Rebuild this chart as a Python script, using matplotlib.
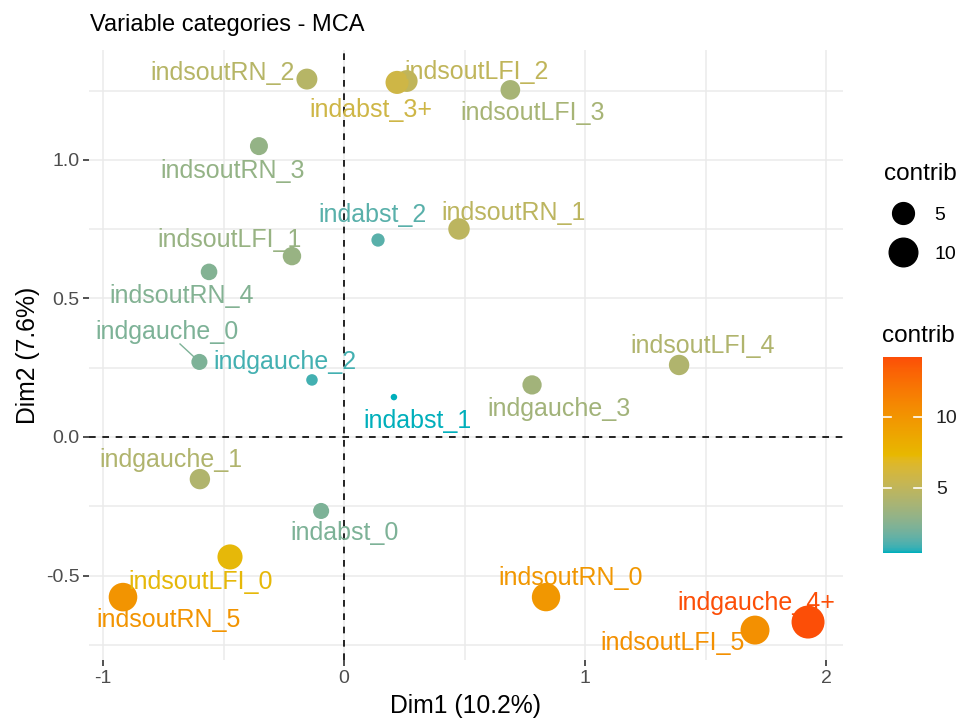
import numpy as np
import matplotlib
matplotlib.use("Agg")
import matplotlib.pyplot as plt
from matplotlib.colors import ListedColormap, Normalize
from matplotlib.lines import Line2D

plt.rcParams['font.family'] = ['Liberation Sans', 'DejaVu Sans']

# MCA variable categories (Dim1, Dim2, contribution)
names = ["indsoutRN_2", "indsoutLFI_2", "indabst_3+", "indsoutLFI_3", "indsoutRN_3",
         "indabst_2", "indsoutRN_1", "indsoutLFI_1", "indsoutRN_4", "indgauche_0",
         "indgauche_2", "indabst_1", "indgauche_3", "indsoutLFI_4", "indgauche_1",
         "indabst_0", "indsoutLFI_0", "indsoutRN_5", "indsoutRN_0", "indsoutLFI_5",
         "indgauche_4+"]
dim1 = [-0.154, 0.26, 0.22, 0.69, -0.353,
        0.141, 0.477, -0.216, -0.56, -0.60,
        -0.133, 0.207, 0.78, 1.39, -0.598,
        -0.095, -0.473, -0.917, 0.838, 1.705,
        1.925]
dim2 = [1.292, 1.285, 1.28, 1.253, 1.05,
        0.711, 0.751, 0.653, 0.596, 0.271,
        0.206, 0.144, 0.188, 0.26, -0.152,
        -0.267, -0.433, -0.578, -0.578, -0.697,
        -0.668]
contrib = [4.5, 5.0, 5.8, 3.8, 3.0,
           1.3, 4.8, 3.2, 2.4, 2.2,
           0.9, 0.4, 3.6, 4.2, 4.2,
           2.2, 7.2, 10.0, 9.8, 10.3,
           14.2]
# repelled label centres
lab_x = [-0.502, 0.548, 0.112, 0.784, -0.461,
         0.120, 0.705, -0.473, -0.672, -0.734,
         -0.245, 0.303, 0.892, 1.486, -0.718,
         0.004, -0.593, -0.730, 0.942, 1.365,
         1.710]
lab_y = [1.314, 1.318, 1.181, 1.170, 0.960,
         0.801, 0.809, 0.711, 0.509, 0.379,
         0.271, 0.058, 0.101, 0.329, -0.083,
         -0.347, -0.523, -0.661, -0.509, -0.744,
         -0.599]
with_segment = ["indgauche_0"]

grad_cols = ["#00AFBB", "#E7B800", "#FC4E07"]


# ggplot-like gradient interpolated in Lab space
def to_lab(c):
    c = np.asarray(c, float)
    lin = np.where(c <= 0.04045, c / 12.92, ((c + 0.055) / 1.055) ** 2.4)
    M = np.array([[0.4124, 0.3576, 0.1805], [0.2126, 0.7152, 0.0722], [0.0193, 0.1192, 0.9505]])
    xyz = M @ lin / np.array([0.95047, 1.0, 1.08883])
    d = 6 / 29
    f = np.where(xyz > d ** 3, np.cbrt(xyz), xyz / (3 * d * d) + 4 / 29)
    return np.array([116 * f[1] - 16, 500 * (f[0] - f[1]), 200 * (f[1] - f[2])])


def from_lab(lab):
    L, a, b = lab
    fy = (L + 16) / 116
    fx = fy + a / 500
    fz = fy - b / 200
    d = 6 / 29
    f = np.array([fx, fy, fz])
    xyz = np.where(f > d, f ** 3, 3 * d * d * (f - 4 / 29)) * np.array([0.95047, 1.0, 1.08883])
    Minv = np.linalg.inv(np.array([[0.4124, 0.3576, 0.1805], [0.2126, 0.7152, 0.0722], [0.0193, 0.1192, 0.9505]]))
    lin = Minv @ xyz
    lin = np.clip(lin, 0, 1)
    c = np.where(lin <= 0.0031308, 12.92 * lin, 1.055 * lin ** (1 / 2.4) - 0.055)
    return np.clip(c, 0, 1)


labs = [to_lab(matplotlib.colors.to_rgb(c)) for c in grad_cols]
samples = []
for t in np.linspace(0, 1, 256):
    seg = min(int(t * 2), 1)
    u = t * 2 - seg
    samples.append(from_lab(labs[seg] * (1 - u) + labs[seg + 1] * u))
cmap = ListedColormap(samples)

vmin, vmax = min(contrib), max(contrib)
norm = Normalize(vmin, vmax)


def msize(v):
    d = 6.5 + 26.5 * np.sqrt((np.asarray(v) - vmin) / (vmax - vmin))
    return (d * 0.72) ** 2


fig = plt.figure(figsize=(9.73, 7.22), dpi=100)
ax = fig.add_axes([89 / 973, 1 - 660 / 722, 754 / 973, 610 / 722])

grid_c = "#EBEBEB"
for v in [-1, -0.5, 0, 0.5, 1, 1.5, 2]:
    ax.axvline(v, color=grid_c, lw=1.1, zorder=0)
for v in [-0.75, -0.5, -0.25, 0, 0.25, 0.5, 0.75, 1.0, 1.25]:
    ax.axhline(v, color=grid_c, lw=1.1, zorder=0)
ax.axhline(0, color="black", lw=1.2, ls=(0, (4, 4)), zorder=1)
ax.axvline(0, color="black", lw=1.2, ls=(0, (4, 4)), zorder=1)

cols = cmap(norm(np.array(contrib)))
ax.scatter(dim1, dim2, s=msize(contrib), c=cols, linewidths=0, zorder=3)

for i, n in enumerate(names):
    if n in with_segment:
        sx = lab_x[i] + 0.4 * (dim1[i] - lab_x[i])
        sy = lab_y[i] + 0.4 * (dim2[i] - lab_y[i])
        ax.plot([sx, dim1[i]], [sy, dim2[i]], color=cols[i], lw=1, zorder=2)
    ax.text(lab_x[i], lab_y[i], n, color=cols[i], fontsize=18, ha="center", va="center", zorder=4)

ax.set_xlim(-1.058, 2.07)
ax.set_ylim(-0.805, 1.397)
ax.set_xticks([-1, 0, 1, 2])
ax.set_xticklabels(["-1", "0", "1", "2"])
ax.set_yticks([-0.5, 0.0, 0.5, 1.0])
ax.set_yticklabels(["-0.5", "0.0", "0.5", "1.0"])
for s in ax.spines.values():
    s.set_visible(False)
ax.tick_params(length=4, width=1.2, color="#333333", labelcolor="#4D4D4D", labelsize=14, pad=3)
ax.set_xlabel("Dim1 (10.2%)", fontsize=17.8, labelpad=5)
ax.set_ylabel("Dim2 (7.6%)", fontsize=17.8, labelpad=4)
fig.text(90 / 973, 1 - 25 / 722, "Variable categories - MCA", fontsize=17, va="center", ha="left")

# size legend
handles = [Line2D([], [], ls="", marker="o", color="black", markersize=np.sqrt(msize(v))) for v in [5, 10]]
leg = ax.legend(handles, ["5", "10"], title="contrib", loc="upper left",
                bbox_to_anchor=(876 / 973, 1 - 155 / 722), bbox_transform=fig.transFigure,
                frameon=False, fontsize=14, title_fontsize=17.5, labelspacing=1.1,
                handletextpad=0.6, alignment="left", borderaxespad=0)

# colour bar
cax = fig.add_axes([883 / 973, 1 - 553 / 722, 39 / 973, 196 / 722])
sm = matplotlib.cm.ScalarMappable(norm=norm, cmap=cmap)
cb = fig.colorbar(sm, cax=cax, ticks=[5, 10])
cb.outline.set_visible(False)
cax.tick_params(length=0, labelsize=14, labelcolor="#222222", pad=10)
for t in [5, 10]:
    cax.plot([0, 0.2], [t, t], color="white", lw=1.2, transform=cax.get_yaxis_transform())
    cax.plot([0.8, 1], [t, t], color="white", lw=1.2, transform=cax.get_yaxis_transform())
fig.text(882 / 973, 1 - 336 / 722, "contrib", fontsize=17.5, va="center", ha="left")

fig.savefig("out.png", dpi=100)
